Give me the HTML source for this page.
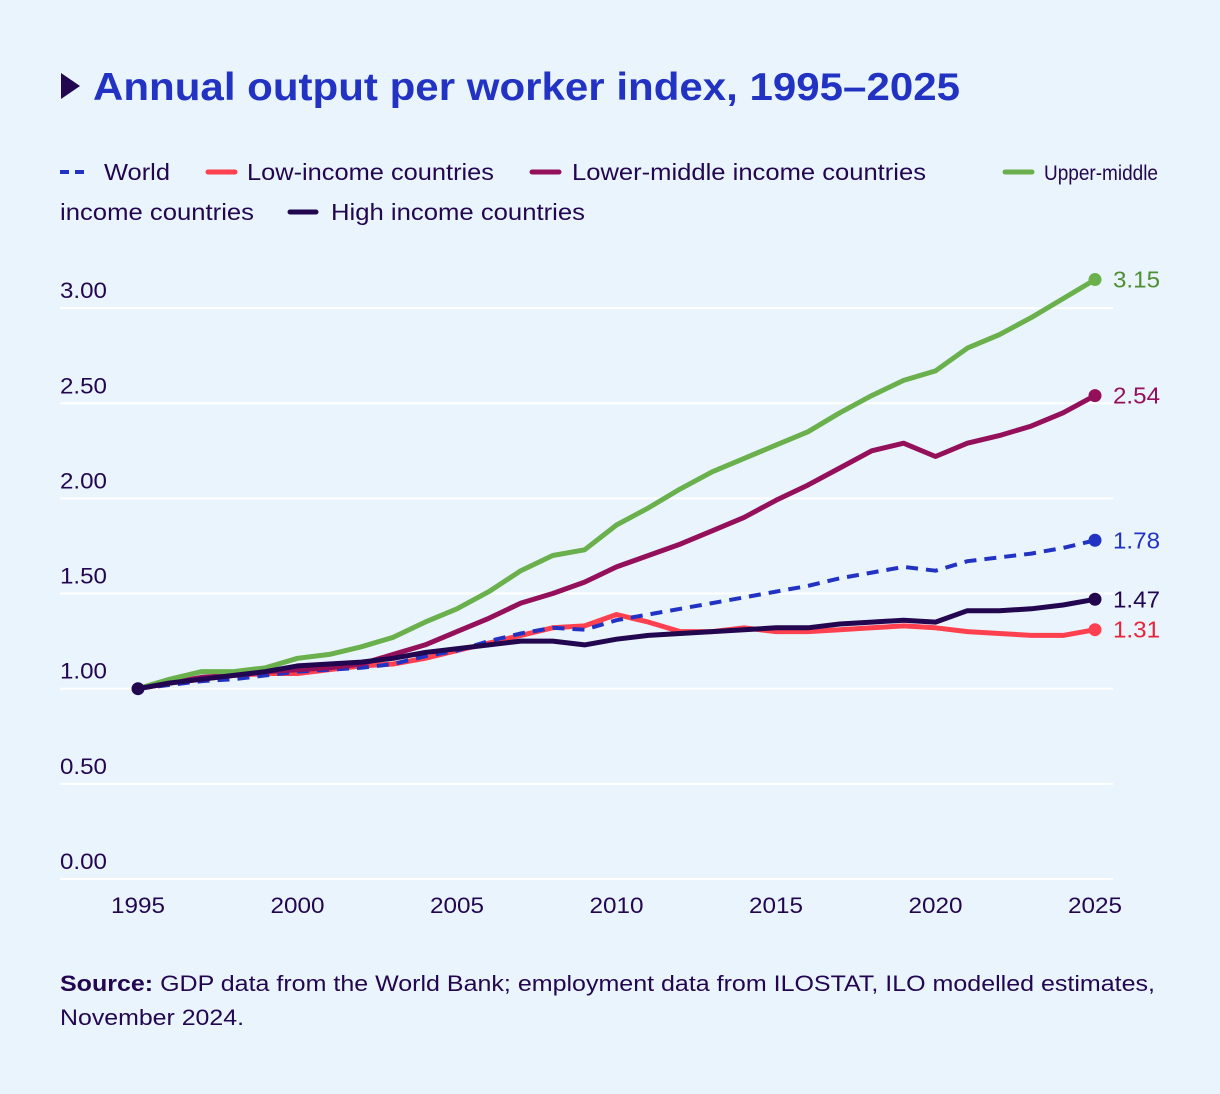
<!DOCTYPE html>
<html><head><meta charset="utf-8">
<style>
html,body{margin:0;padding:0;background:#eaf4fd;}
svg{display:block;font-family:"Liberation Sans",sans-serif;}
</style></head>
<body>
<svg id="chart" width="1220" height="1094" viewBox="0 0 1220 1094">
<rect width="1220" height="1094" fill="#eaf4fd"/>
<polygon points="61,73 61,99 80,86" fill="#22064f"/>
<text x="93" y="100" font-size="39" font-weight="bold" fill="#2233c4" textLength="867" lengthAdjust="spacingAndGlyphs">Annual output per worker index, 1995–2025</text>
<g font-size="23" fill="#22064f">
<g><line x1="60" y1="172" x2="90" y2="172" stroke="#2233c4" stroke-width="4" stroke-dasharray="9,6"/><text x="104" y="180" textLength="66" lengthAdjust="spacingAndGlyphs">World</text></g>
<g><line x1="208" y1="172" x2="235" y2="172" stroke="#ff404e" stroke-width="5" stroke-linecap="round"/><text x="247" y="180" textLength="247" lengthAdjust="spacingAndGlyphs">Low-income countries</text></g>
<g><line x1="532" y1="172" x2="559" y2="172" stroke="#94105a" stroke-width="5" stroke-linecap="round"/><text x="572" y="180" textLength="354" lengthAdjust="spacingAndGlyphs">Lower-middle income countries</text></g>
<g><line x1="1005" y1="172" x2="1032" y2="172" stroke="#6ab04c" stroke-width="5" stroke-linecap="round"/><text x="1044" y="180" font-size="21" textLength="114" lengthAdjust="spacingAndGlyphs">Upper-middle</text><text x="60" y="220" textLength="194" lengthAdjust="spacingAndGlyphs">income countries</text></g>
<g><line x1="290" y1="212" x2="316" y2="212" stroke="#22064f" stroke-width="5" stroke-linecap="round"/><text x="331" y="220" textLength="254" lengthAdjust="spacingAndGlyphs">High income countries</text></g>
</g>
<g id="grid"></g>
<g id="series"></g>
<text x="60" y="991" font-size="22" fill="#22064f" textLength="1095" lengthAdjust="spacingAndGlyphs"><tspan font-weight="bold">Source:</tspan> GDP data from the World Bank; employment data from ILOSTAT, ILO modelled estimates,</text>
<text x="60" y="1025" font-size="22" fill="#22064f" textLength="184" lengthAdjust="spacingAndGlyphs">November 2024.</text>
</svg>
<script>
const years=[];for(let y=1995;y<=2025;y++)years.push(y);
const yTicks=[0,0.5,1,1.5,2,2.5,3];
const yTickLabels=["0.00","0.50","1.00","1.50","2.00","2.50","3.00"];
const xTicks=[1995,2000,2005,2010,2015,2020,2025];
const world=[1.00,1.02,1.04,1.05,1.07,1.09,1.10,1.11,1.13,1.17,1.20,1.25,1.29,1.32,1.31,1.36,1.39,1.42,1.45,1.48,1.51,1.54,1.58,1.61,1.64,1.62,1.67,1.69,1.71,1.74,1.78];
const lowIncome=[1.00,1.03,1.05,1.07,1.08,1.08,1.10,1.12,1.13,1.16,1.20,1.24,1.28,1.32,1.33,1.39,1.35,1.30,1.30,1.32,1.30,1.30,1.31,1.32,1.33,1.32,1.30,1.29,1.28,1.28,1.31];
const lowerMiddle=[1.00,1.03,1.06,1.07,1.09,1.10,1.11,1.13,1.18,1.23,1.30,1.37,1.45,1.50,1.56,1.64,1.70,1.76,1.83,1.90,1.99,2.07,2.16,2.25,2.29,2.22,2.29,2.33,2.38,2.45,2.54];
const upperMiddle=[1.00,1.05,1.09,1.09,1.11,1.16,1.18,1.22,1.27,1.35,1.42,1.51,1.62,1.70,1.73,1.86,1.95,2.05,2.14,2.21,2.28,2.35,2.45,2.54,2.62,2.67,2.79,2.86,2.95,3.05,3.15];
const highIncome=[1.00,1.03,1.05,1.07,1.09,1.12,1.13,1.14,1.16,1.19,1.21,1.23,1.25,1.25,1.23,1.26,1.28,1.29,1.30,1.31,1.32,1.32,1.34,1.35,1.36,1.35,1.41,1.41,1.42,1.44,1.47];
const NS="http://www.w3.org/2000/svg";
const xS=y=>138+(y-1995)*(1095-138)/30;
const yS=v=>879-v*190.3;
function mk(tag,parent){const e=document.createElementNS(NS,tag);parent.appendChild(e);return e;}
const grid=document.getElementById('grid');
yTicks.forEach((t,i)=>{
 const l=mk('line',grid);
 
 
 l.setAttribute('x1',60);l.setAttribute('x2',1113);l.setAttribute('y1',yS(t));l.setAttribute('y2',yS(t));
 l.setAttribute('stroke','#ffffff');l.setAttribute('stroke-width','2');
 const tx=mk('text',grid);
 
 
 tx.setAttribute('x',60);tx.setAttribute('y',yS(t)-10);tx.setAttribute('font-size','22');tx.setAttribute('fill','#22064f');
 tx.setAttribute('textLength','47');tx.setAttribute('lengthAdjust','spacingAndGlyphs');
 tx.textContent=yTickLabels[i];
});
xTicks.forEach(t=>{
 const tx=mk('text',grid);
 
 
 tx.setAttribute('x',xS(t));tx.setAttribute('y',913);tx.setAttribute('font-size','22');tx.setAttribute('fill','#22064f');tx.setAttribute('text-anchor','middle');
 tx.setAttribute('textLength','54');tx.setAttribute('lengthAdjust','spacingAndGlyphs');
 tx.textContent=t;
});
const sg=document.getElementById('series');
const defs=[
 {d:lowIncome,c:'#ff404e',n:'low-income',lc:'#e8233a'},
 {d:world,c:'#2233c4',n:'world',dash:'12,8',lc:'#2233c4'},
 {d:lowerMiddle,c:'#94105a',n:'lower-middle',lc:'#94105a'},
 {d:upperMiddle,c:'#6ab04c',n:'upper-middle',lc:'#4f8f33'},
 {d:highIncome,c:'#22064f',n:'high-income',lc:'#22064f'}
];
defs.forEach(s=>{
 const p=mk('path',sg);
 
 
 p.setAttribute('d',s.d.map((v,i)=>(i?'L':'M')+xS(years[i]).toFixed(1)+','+yS(v).toFixed(1)).join(''));
 p.setAttribute('fill','none');p.setAttribute('stroke',s.c);p.setAttribute('stroke-width',s.dash?'4':'5');p.setAttribute('stroke-linejoin','round');
 if(s.dash)p.setAttribute('stroke-dasharray',s.dash);
 const last=s.d[s.d.length-1];
 const c=mk('circle',sg);
 
 
 c.setAttribute('cx',xS(2025));c.setAttribute('cy',yS(last));c.setAttribute('r','6.5');c.setAttribute('fill',s.c);
 const t=mk('text',sg);
 
 
 t.setAttribute('x',1113);t.setAttribute('y',yS(last)+8);t.setAttribute('font-size','23');t.setAttribute('fill',s.lc);
 t.setAttribute('textLength','47');t.setAttribute('lengthAdjust','spacingAndGlyphs');
 t.textContent=last.toFixed(2);
});
const c0=mk('circle',sg);


c0.setAttribute('cx',xS(1995));c0.setAttribute('cy',yS(1));c0.setAttribute('r','6.5');c0.setAttribute('fill','#22064f');
</script>
</body></html>
